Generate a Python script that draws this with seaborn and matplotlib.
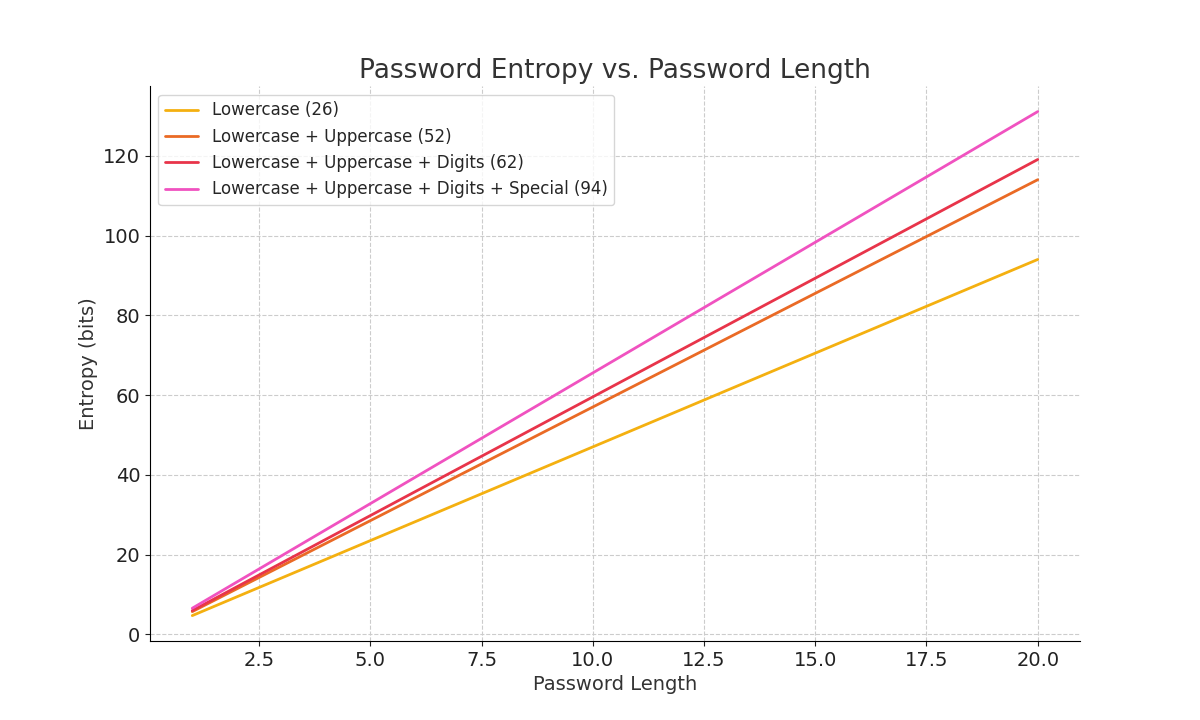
import matplotlib
matplotlib.use("Agg")
import matplotlib.pyplot as plt
import seaborn as sns
import pandas as pd

lengths = list(range(1, 21))
lower = [4.70,9.40,14.10,18.80,23.50,28.20,32.90,37.60,42.30,47.00,51.70,56.40,61.11,65.81,70.51,75.21,79.91,84.61,89.31,94.01]
lower_upper = [5.70,11.40,17.10,22.80,28.50,34.20,39.90,45.60,51.30,57.00,62.70,68.40,74.11,79.81,85.51,91.21,96.91,102.61,108.31,114.01]
lud = [5.95,11.91,17.86,23.82,29.77,35.73,41.68,47.63,53.59,59.54,65.50,71.45,77.40,83.36,89.31,95.27,101.22,107.18,113.13,119.08]
luds = [6.55,13.11,19.66,26.22,32.77,39.33,45.88,52.44,58.99,65.55,72.10,78.66,85.21,91.76,98.32,104.87,111.43,117.98,124.54,131.09]
labels = ["Lowercase (26)", "Lowercase + Uppercase (52)",
          "Lowercase + Uppercase + Digits (62)",
          "Lowercase + Uppercase + Digits + Special (94)"]
colors = ["#F4B010", "#EA6A25", "#E8344A", "#F052C0"]

rows = []
for lab, vals in zip(labels, [lower, lower_upper, lud, luds]):
    for l, v in zip(lengths, vals):
        rows.append({"Password Length": l, "Entropy (bits)": v, "Set": lab})
df = pd.DataFrame(rows)

sns.set_style("white")
fig = plt.figure(figsize=(12, 7.2), dpi=100)
ax = fig.add_axes([0.125, 0.11, 0.775, 0.77])
sns.lineplot(data=df, x="Password Length", y="Entropy (bits)", hue="Set",
             palette=colors, linewidth=2, ax=ax)
ax.grid(True, linestyle="--", color="#cccccc", linewidth=0.8)
for s in ["top", "right"]:
    ax.spines[s].set_visible(False)
for s in ["left", "bottom"]:
    ax.spines[s].set_color("black")
ax.set_xticks([2.5, 5, 7.5, 10, 12.5, 15, 17.5, 20])
ax.tick_params(labelsize=14, colors="#222222", left=True, bottom=True, direction="out")
ax.set_xlabel("Password Length", fontsize=14, color="#333333")
ax.set_ylabel("Entropy (bits)", fontsize=14, color="#333333")
ax.set_title("Password Entropy vs. Password Length", fontsize=19, color="#333333")
ax.legend(title=None, loc="upper left", fontsize=12)
fig.savefig("out.png", dpi=100)
